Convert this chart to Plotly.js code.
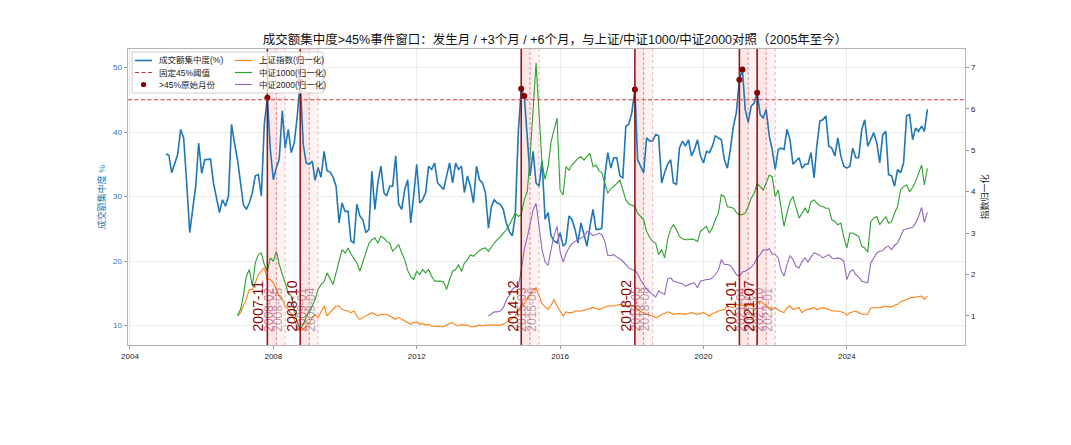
<!DOCTYPE html>
<html><head><meta charset="utf-8">
<script src="https://cdn.plot.ly/plotly-3.0.1.min.js"></script>
<style>html,body{margin:0;padding:0;background:#fff}#chart{width:1071px;height:445px}</style>
</head><body><div id="chart"></div>
<script>
// ---------- data ----------
const concStart = [2005, 1];
const concentration = [
36.6,36.4,33.7,35.2,36.5,40.4,39.1,32.1,24.4,28.0,31.6,38.3,
33.6,35.7,35.7,35.8,32.1,29.5,27.5,29.5,28.5,30.1,41.2,38.3,
35.7,32.1,28.8,28.0,29.0,30.6,33.2,33.4,30.1,41.2,45.3,37.3,
32.6,34.5,35.8,43.3,37.5,40.4,36.8,38.3,42.5,47.8,38.0,35.2,
35.0,35.5,32.5,34.5,33.0,37.0,34.0,33.8,33.0,31.6,25.9,29.0,
27.7,27.7,23.1,22.8,28.8,27.0,26.4,24.4,24.9,33.9,28.0,32.1,
34.7,30.6,30.1,31.6,31.6,36.3,28.8,28.0,31.1,32.6,25.9,30.1,
35.0,29.0,29.5,30.6,34.7,34.2,35.2,32.1,31.6,31.1,33.2,35.2,
32.1,35.2,34.2,34.7,30.6,33.2,31.6,29.0,34.7,32.6,32.1,30.6,
25.1,28.5,29.5,29.0,28.8,28.0,25.9,24.6,23.9,27.0,39.9,46.7,
45.6,38.5,33.2,37.0,32.1,31.6,35.5,26.5,27.5,23.9,23.1,22.8,
24.4,22.3,22.8,27.0,26.4,24.9,22.8,25.9,23.9,22.3,25.4,28.0,
24.9,24.9,25.1,33.2,36.8,34.4,36.0,36.0,33.2,32.9,40.9,41.2,
43.0,46.6,35.7,34.7,33.7,39.1,38.6,38.6,39.6,39.4,32.1,33.7,
35.0,35.7,32.1,31.9,37.5,38.6,37.8,38.8,36.3,37.3,38.8,36.3,
35.2,37.0,36.8,37.8,39.4,39.1,38.8,35.7,34.4,37.3,40.9,43.0,
48.1,49.7,43.5,41.5,44.0,44.5,46.1,42.7,42.2,43.5,39.4,37.3,
34.2,37.3,37.5,37.3,40.4,38.8,35.0,35.5,36.0,34.4,35.0,35.0,
36.8,32.9,37.8,41.7,41.9,42.5,37.8,37.5,36.3,39.1,36.3,34.7,
34.4,34.7,37.5,36.0,36.0,40.4,41.9,37.8,38.8,39.9,38.3,35.2,
39.6,40.1,33.4,33.2,31.6,34.2,33.7,35.2,42.5,42.7,38.8,40.6,
40.1,40.9,40.1,43.5];

const indexStart = [2007, 1];
const shIndex = [
1.00,1.08,1.24,1.40,1.64,1.64,1.80,2.00,2.08,2.16,1.88,1.88,
1.80,1.64,1.48,1.40,1.24,1.16,1.04,0.92,0.72,0.64,0.68,0.76,
0.84,0.96,1.04,0.96,1.08,1.24,1.00,1.08,1.16,1.24,1.24,1.16,
1.14,1.12,1.08,1.12,1.00,0.92,0.96,1.00,1.04,1.08,1.04,1.00,
1.04,1.04,1.04,1.00,0.96,0.92,0.96,0.92,0.88,0.84,0.80,0.84,
0.86,0.80,0.82,0.78,0.80,0.76,0.76,0.75,0.74,0.74,0.78,0.82,
0.84,0.78,0.76,0.79,0.78,0.78,0.74,0.74,0.76,0.78,0.76,0.78,
0.78,0.78,0.78,0.78,0.78,0.80,0.84,0.90,0.94,1.00,1.14,1.26,
1.30,1.42,1.52,1.62,1.68,1.50,1.30,1.22,1.16,1.26,1.40,1.24,
1.12,1.00,1.10,1.08,1.08,1.12,1.12,1.12,1.14,1.16,1.18,1.20,
1.18,1.16,1.18,1.22,1.24,1.24,1.24,1.26,1.28,1.26,1.24,1.24,
1.26,1.24,1.16,1.10,1.08,1.04,1.02,1.00,0.96,0.98,1.04,1.06,
1.10,1.08,1.04,1.05,1.06,1.05,1.04,1.06,1.08,1.06,1.04,1.06,
1.08,1.04,1.00,1.06,1.08,1.12,1.14,1.16,1.24,1.22,1.20,1.28,
1.26,1.24,1.24,1.26,1.25,1.24,1.32,1.36,1.30,1.24,1.20,1.16,
1.20,1.14,1.12,1.08,1.20,1.24,1.16,1.18,1.20,1.08,1.14,1.16,
1.18,1.20,1.16,1.18,1.20,1.18,1.16,1.12,1.12,1.12,1.10,1.08,
1.02,1.08,1.10,1.12,1.08,1.04,1.04,1.04,1.20,1.20,1.20,1.20,
1.22,1.24,1.22,1.22,1.26,1.28,1.34,1.38,1.40,1.43,1.44,1.46,
1.47,1.48,1.40,1.48];

const csi1000 = [
1.00,1.16,1.48,1.96,2.12,1.72,2.28,2.48,2.52,2.24,2.08,2.40,
2.32,2.56,2.24,2.00,1.80,1.56,1.48,1.16,0.84,0.68,0.80,0.98,
1.10,1.24,1.40,1.64,1.76,1.82,2.04,1.88,1.76,2.04,2.36,2.60,
2.52,2.64,2.50,2.40,2.28,2.08,2.30,2.56,2.75,2.84,2.88,2.76,
2.92,2.88,2.80,2.76,2.56,2.64,2.72,2.52,2.36,2.10,1.95,1.88,
2.08,2.00,2.12,2.04,2.12,1.96,1.84,1.84,1.84,1.82,1.64,1.88,
2.08,2.12,2.24,2.08,2.28,2.36,2.48,2.44,2.52,2.58,2.62,2.64,
2.56,2.68,2.76,2.84,2.90,3.00,3.08,3.20,3.36,3.48,3.40,3.45,
3.80,4.00,4.84,6.12,7.10,5.88,4.68,4.30,4.60,5.20,5.48,5.77,
4.04,3.92,4.60,4.52,4.64,4.72,4.80,4.84,4.76,4.85,4.92,4.60,
4.64,4.50,4.46,4.20,3.96,4.08,4.12,4.20,4.28,4.04,3.80,3.70,
3.66,3.64,3.48,3.40,3.32,3.04,2.90,2.80,2.76,2.48,2.60,2.40,
2.84,3.10,3.20,3.08,2.92,2.86,2.84,2.84,2.86,2.84,2.80,3.04,
3.10,3.16,3.00,3.12,3.32,3.48,3.92,3.88,3.64,3.62,3.60,3.50,
3.44,3.45,3.48,3.64,3.84,3.96,4.20,4.12,4.04,4.20,4.40,4.36,
3.88,4.04,3.60,3.16,3.48,3.76,3.88,3.64,3.36,3.48,3.60,3.48,
3.76,3.80,3.72,3.66,3.64,3.60,3.60,3.32,3.28,3.20,3.24,2.90,
2.64,3.00,3.00,2.96,2.92,2.68,2.64,2.54,3.28,3.36,3.40,3.20,
3.30,3.40,3.24,3.28,3.48,3.64,4.04,4.12,4.16,4.00,4.10,4.24,
4.44,4.64,4.16,4.56];

const csi2000Start = [2014, 1];
const csi2000 = [
1.00,1.05,1.10,1.10,1.12,1.20,1.38,1.50,1.64,1.70,1.70,2.10,
2.60,2.90,3.25,3.56,3.72,3.12,2.60,2.30,2.22,2.60,2.95,3.16,
2.55,2.30,2.50,2.65,2.74,2.80,2.84,2.88,2.92,3.04,3.00,2.94,
2.96,3.00,2.96,2.80,2.46,2.46,2.48,2.42,2.38,2.32,2.24,2.16,
2.12,2.10,2.02,1.86,1.76,1.64,1.58,1.52,1.46,1.60,1.56,1.52,
1.90,1.92,1.84,1.82,1.80,1.78,1.72,1.76,1.78,1.80,1.68,1.84,
1.86,1.88,1.88,1.92,2.00,2.10,2.36,2.24,2.24,2.22,2.12,2.00,
1.96,2.06,2.08,2.12,2.18,2.26,2.40,2.48,2.60,2.58,2.62,2.50,
2.48,2.40,2.10,1.96,2.24,2.46,2.36,2.20,2.16,2.32,2.40,2.30,
2.42,2.52,2.50,2.46,2.40,2.44,2.48,2.40,2.38,2.40,2.38,2.32,
1.88,2.06,2.12,2.00,1.94,1.84,1.82,1.80,2.28,2.40,2.52,2.56,
2.58,2.66,2.68,2.60,2.70,2.76,2.92,3.08,3.10,3.12,3.14,3.24,
3.40,3.62,3.26,3.50];

const threshold = 45;
const eventMonths = ['2007-11','2008-10','2014-12','2018-02','2021-01','2021-07'];
const plus3Months = ['2008-02','2009-01','2015-03','2018-05','2021-04','2021-10'];
const plus6Months = ['2008-05','2009-04','2015-06','2018-08','2021-07','2022-01'];
const xTickYears = ['2004','2008','2012','2016','2020','2024'];
const leftTicks = [10,20,30,40,50];
const rightTicks = [1,2,3,4,5,6,7];

const seriesNames = ['成交额集中度(%)','固定45%阈值','>45%原始月份','上证指数(归一化)','中证1000(归一化)','中证2000(归一化)'];
const titleText = '成交额集中度>45%事件窗口：发生月 / +3个月 / +6个月，与上证/中证1000/中证2000对照（2005年至今）';

// ---------- helpers ----------
function monthSeq(start, n) {
  const out = [];
  let y = start[0], m = start[1];
  for (let i = 0; i < n; i++) {
    out.push(y + '-' + String(m).padStart(2, '0') + '-01');
    m++; if (m > 12) { m = 1; y++; }
  }
  return out;
}
const d = s => s + '-01';

const xConc = monthSeq(concStart, concentration.length);
const xIdx = monthSeq(indexStart, shIndex.length);
const x2000 = monthSeq(csi2000Start, csi2000.length);
const hotX = [], hotY = [];
concentration.forEach((v, i) => { if (v > threshold) { hotX.push(xConc[i]); hotY.push(v); } });

const C_BLUE = '#1f77b4', C_ORANGE = '#ff7f0e', C_GREEN = '#2ca02c', C_PURPLE = '#9467bd', C_DARK = '#8b0000';
const FONT = 'Liberation Sans, Arial, "Noto Sans CJK SC", sans-serif';

const traces = [
  {x: xConc, y: concentration, name: seriesNames[0], type: 'scatter', mode: 'lines',
   line: {color: C_BLUE, width: 1.6}, yaxis: 'y', hoverinfo: 'skip'},
  {x: hotX, y: hotY, name: seriesNames[2], type: 'scatter', mode: 'markers',
   marker: {color: C_DARK, size: 6}, yaxis: 'y'},
  {x: xIdx, y: shIndex, name: seriesNames[3], type: 'scatter', mode: 'lines',
   line: {color: C_ORANGE, width: 1.1}, yaxis: 'y2'},
  {x: xIdx, y: csi1000, name: seriesNames[4], type: 'scatter', mode: 'lines',
   line: {color: C_GREEN, width: 1.1}, yaxis: 'y2'},
  {x: x2000, y: csi2000, name: seriesNames[5], type: 'scatter', mode: 'lines',
   line: {color: C_PURPLE, width: 1.1}, yaxis: 'y2'}
];

// plot box in pixels (for manual legend placement)
const PL = 128, PR = 965, PT = 49, PB = 345;
const px = v => (v - PL) / (PR - PL);
const py = v => (PB - v) / (PB - PT);

const shapes = [];
const annotations = [];

eventMonths.forEach((e, i) => {
  shapes.push({type: 'rect', xref: 'x', yref: 'paper', x0: d(e), x1: d(plus6Months[i]), y0: 0, y1: 1,
    fillcolor: 'rgba(235,90,90,0.07)', line: {width: 0}, layer: 'below'});
  shapes.push({type: 'rect', xref: 'x', yref: 'paper', x0: d(e), x1: d(plus3Months[i]), y0: 0, y1: 1,
    fillcolor: 'rgba(235,90,90,0.08)', line: {width: 0}, layer: 'below'});
});
eventMonths.forEach((e, i) => {
  shapes.push({type: 'line', xref: 'x', yref: 'paper', x0: d(plus6Months[i]), x1: d(plus6Months[i]), y0: 0, y1: 1,
    line: {color: 'rgba(225,120,140,0.55)', width: 1, dash: 'dot'}, layer: 'above'});
  shapes.push({type: 'line', xref: 'x', yref: 'paper', x0: d(plus3Months[i]), x1: d(plus3Months[i]), y0: 0, y1: 1,
    line: {color: 'rgba(215,70,100,0.6)', width: 1, dash: '3px,2px'}, layer: 'above'});
  shapes.push({type: 'line', xref: 'x', yref: 'paper', x0: d(e), x1: d(e), y0: 0, y1: 1,
    line: {color: 'rgba(139,0,0,0.9)', width: 1.6}, layer: 'above'});
});
shapes.push({type: 'line', xref: 'paper', yref: 'y', x0: 0, x1: 1, y0: threshold, y1: threshold,
  line: {color: '#d8333a', width: 1.2, dash: '4px,2.5px'}, layer: 'above'});

eventMonths.forEach((e, i) => {
  annotations.push({x: d(plus6Months[i]), xref: 'x', y: 0.042, yref: 'paper', text: plus6Months[i],
    textangle: -90, xanchor: 'right', yanchor: 'bottom', showarrow: false, borderpad: 0,
    font: {family: FONT, size: 12, color: 'rgba(125,80,105,0.55)'}});
  annotations.push({x: d(plus3Months[i]), xref: 'x', y: 0.042, yref: 'paper', text: plus3Months[i],
    textangle: -90, xanchor: 'right', yanchor: 'bottom', showarrow: false, borderpad: 0,
    font: {family: FONT, size: 12, color: 'rgba(160,40,70,0.6)'}});
  annotations.push({x: d(e), xref: 'x', y: 0.042, yref: 'paper', text: e,
    textangle: -90, xanchor: 'right', yanchor: 'bottom', showarrow: false, borderpad: 0,
    font: {family: FONT, size: 14, color: C_DARK}});
});

// manual legend (two columns)
shapes.push({type: 'rect', xref: 'paper', yref: 'paper', x0: px(132), x1: px(323), y0: py(93), y1: py(52),
  fillcolor: 'rgba(255,255,255,0.8)', line: {color: '#d0d0d0', width: 1}, layer: 'above'});
const rowsY = [60.5, 72.5, 84.5];
const col1 = [135, 152, 158], col2 = [235, 252, 258];
const legendDefs = [
  {col: col1, row: 0, kind: 'line', color: C_BLUE, width: 1.6, dash: 'solid', name: seriesNames[0]},
  {col: col1, row: 1, kind: 'line', color: '#d8333a', width: 1.2, dash: '4px,2.5px', name: seriesNames[1]},
  {col: col1, row: 2, kind: 'dot', color: C_DARK, name: seriesNames[2]},
  {col: col2, row: 0, kind: 'line', color: C_ORANGE, width: 1.2, dash: 'solid', name: seriesNames[3]},
  {col: col2, row: 1, kind: 'line', color: C_GREEN, width: 1.2, dash: 'solid', name: seriesNames[4]},
  {col: col2, row: 2, kind: 'line', color: C_PURPLE, width: 1.2, dash: 'solid', name: seriesNames[5]}
];
legendDefs.forEach(L => {
  const yy = py(rowsY[L.row]);
  if (L.kind === 'line') {
    shapes.push({type: 'line', xref: 'paper', yref: 'paper', x0: px(L.col[0]), x1: px(L.col[1]), y0: yy, y1: yy,
      line: {color: L.color, width: L.width, dash: L.dash}, layer: 'above'});
  } else {
    const cx = (L.col[0] + L.col[1]) / 2;
    shapes.push({type: 'circle', xref: 'paper', yref: 'paper', x0: px(cx - 2.6), x1: px(cx + 2.6),
      y0: py(rowsY[L.row] + 2.6), y1: py(rowsY[L.row] - 2.6), fillcolor: L.color, line: {width: 0}, layer: 'above'});
  }
  annotations.push({xref: 'paper', yref: 'paper', x: px(L.col[2]), y: yy, text: L.name, showarrow: false,
    xanchor: 'left', yanchor: 'middle', borderpad: 0, font: {family: FONT, size: 8.5, color: '#222'}});
});

const layout = {
  width: 1071, height: 445,
  margin: {l: PL, r: 1071 - PR, t: PT, b: 445 - PB, pad: 0},
  paper_bgcolor: '#ffffff', plot_bgcolor: '#ffffff',
  font: {family: FONT, size: 8, color: '#222'},
  showlegend: false,
  title: {text: titleText, x: ((PL + PR) / 2) / 1071, xref: 'paper', xanchor: 'center',
    y: 1 - 40 / 445, yref: 'container', yanchor: 'middle',
    font: {family: FONT, size: 12.5, color: '#111'}},
  xaxis: {type: 'date', range: ['2003-12-12', '2027-04-19'],
    tickvals: xTickYears.map(y => y + '-01-01'), ticktext: xTickYears,
    tickfont: {size: 8, color: '#222'}, ticks: 'outside', ticklen: 3, tickcolor: '#999',
    showgrid: true, gridcolor: '#ececec', gridwidth: 1,
    showline: true, linecolor: '#b4b4b4', linewidth: 1.4, mirror: true, zeroline: false},
  yaxis: {range: [6.98, 52.87], tickvals: leftTicks, ticks: 'outside', ticklen: 3, tickcolor: '#999',
    tickfont: {size: 8, color: C_BLUE},
    title: {text: '成交额集中度 %', font: {size: 9, color: C_BLUE}, standoff: 6},
    showgrid: true, gridcolor: '#ececec', gridwidth: 1,
    showline: true, linecolor: '#b4b4b4', linewidth: 1.4, zeroline: false},
  yaxis2: {range: [0.30, 7.44], overlaying: 'y', side: 'right', tickvals: rightTicks,
    ticks: 'outside', ticklen: 3, tickcolor: '#999', tickfont: {size: 8, color: '#222'},
    title: {text: '指数归一化', font: {size: 9, color: '#222'}, standoff: 6},
    showgrid: false, showline: true, linecolor: '#b4b4b4', linewidth: 1.4, zeroline: false},
  shapes: shapes,
  annotations: annotations
};

Plotly.newPlot('chart', traces, layout, {displayModeBar: false, staticPlot: true});
</script>
</body></html>
